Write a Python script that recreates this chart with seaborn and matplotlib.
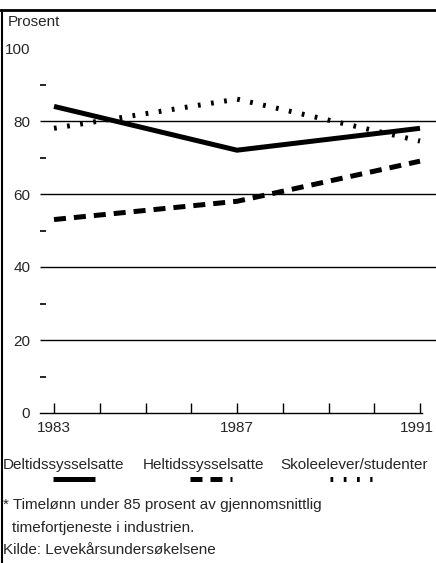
import matplotlib
matplotlib.use("Agg")
import matplotlib.pyplot as plt
from matplotlib.lines import Line2D
from matplotlib import font_manager
import seaborn as sns
import pandas as pd

years = [1983, 1987, 1991]
deltid = [84, 72, 78]
heltid = [53, 58, 69]
skole = [78, 86, 74.5]
series_names = ["Deltidssysselsatte", "Heltidssysselsatte", "Skoleelever/studenter"]
y_major = [0, 20, 40, 60, 80, 100]
y_minor = [10, 30, 50, 70, 90]
grid_levels = [20, 40, 60, 80]
x_ticks = list(range(1983, 1992))
x_labels = ["1983", "", "", "", "1987", "", "", "", "1991"]

sns.set_theme(style="white")
names = {f.name for f in font_manager.fontManager.ttflist}
narrow = "Liberation Sans Narrow" in names
plt.rcParams['font.family'] = (['Liberation Sans Narrow'] if narrow else []) + ['Liberation Sans', 'DejaVu Sans']
FS = 13 if narrow else 11

df = pd.DataFrame({
    "year": years * 3,
    "value": deltid + heltid + skole,
    "group": [series_names[0]] * 3 + [series_names[1]] * 3 + [series_names[2]] * 3,
})

W, H = 436, 563
fig = plt.figure(figsize=(W / 100, H / 100), dpi=100)
ax = fig.add_axes([40 / W, 1 - 413 / H, (W - 40) / W, (413 - 40) / H])

dashes = {series_names[0]: "", series_names[1]: (2.4, 1.6), series_names[2]: (0.55, 2.1)}
for g in grid_levels:
    ax.axhline(g, color="black", lw=1.0, zorder=1)

sns.lineplot(data=df, x="year", y="value", style="group", dashes=dashes,
             color="black", linewidth=3.6, legend=False, ax=ax, zorder=3)
for ln in ax.get_lines():
    ln.set_dash_capstyle("butt")
    ln.set_solid_capstyle("butt")

ax.set_xlim(1983 - 14 / 45.75, 1991 + 16 / 45.75)
ax.set_ylim(0, (413 - 40) / 3.65)
ax.set_xlabel("")
ax.set_ylabel("")
for s in ["top", "right", "left"]:
    ax.spines[s].set_visible(False)
ax.spines["bottom"].set_color("black")
ax.spines["bottom"].set_linewidth(1.0)
ax.spines["bottom"].set_bounds(1983 - 14 / 45.75, 1991 + 2 / 45.75)

ax.set_xticks(x_ticks)
ax.set_xticklabels(x_labels, fontsize=FS)
ax.tick_params(axis="x", direction="in", length=7, width=1, color="black", pad=6, bottom=True)
ax.set_yticks(y_major)
ax.set_yticklabels([str(v) for v in y_major], fontsize=FS)
ax.set_yticks(y_minor, minor=True)
ax.tick_params(axis="y", which="major", length=0, pad=7, left=True)
ax.tick_params(axis="y", which="minor", direction="in", length=4, width=1.2,
               color="black", left=True)
ax.grid(False)
lbls = ax.get_xticklabels()
lbls[-1].set_horizontalalignment("right")
lbls[-1].set_x(1991)
import matplotlib.transforms as mtransforms
lbls[-1].set_transform(lbls[-1].get_transform() + mtransforms.ScaledTranslation(14 / 100, 0, fig.dpi_scale_trans))

fig.text(8 / W, 1 - 22 / H, "Prosent", fontsize=FS, va="center", ha="left")

# legend
leg_x = [3, 143, 280]
for name, x in zip(series_names, leg_x):
    fig.text(x / W, 1 - 465 / H, name, fontsize=FS, va="center", ha="left")
samples = [(53, 95, None), (190, 232, (2.4, 1.6)), (330, 372, (0.55, 2.1))]
for x0, x1, dsh in samples:
    l = Line2D([x0 / W, x1 / W], [1 - 479 / H, 1 - 479 / H], transform=fig.transFigure,
               color="black", lw=3.6, solid_capstyle="butt", dash_capstyle="butt")
    if dsh:
        l.set_dashes(dsh)
    fig.add_artist(l)

fig.text(3 / W, 1 - 505 / H, "* Timelønn under 85 prosent av gjennomsnittlig", fontsize=FS, va="center", ha="left")
fig.text(12 / W, 1 - 528 / H, "timefortjeneste i industrien.", fontsize=FS, va="center", ha="left")
fig.text(3 / W, 1 - 550 / H, "Kilde: Levekårsundersøkelsene", fontsize=FS, va="center", ha="left")

# frame lines
fig.add_artist(Line2D([2 / W, 2 / W], [0, 1 - 10 / H], transform=fig.transFigure, color="black", lw=1.5))
fig.add_artist(Line2D([0, 1], [1 - 10 / H, 1 - 10 / H], transform=fig.transFigure, color="black", lw=2))

fig.savefig("out.png", dpi=100)
